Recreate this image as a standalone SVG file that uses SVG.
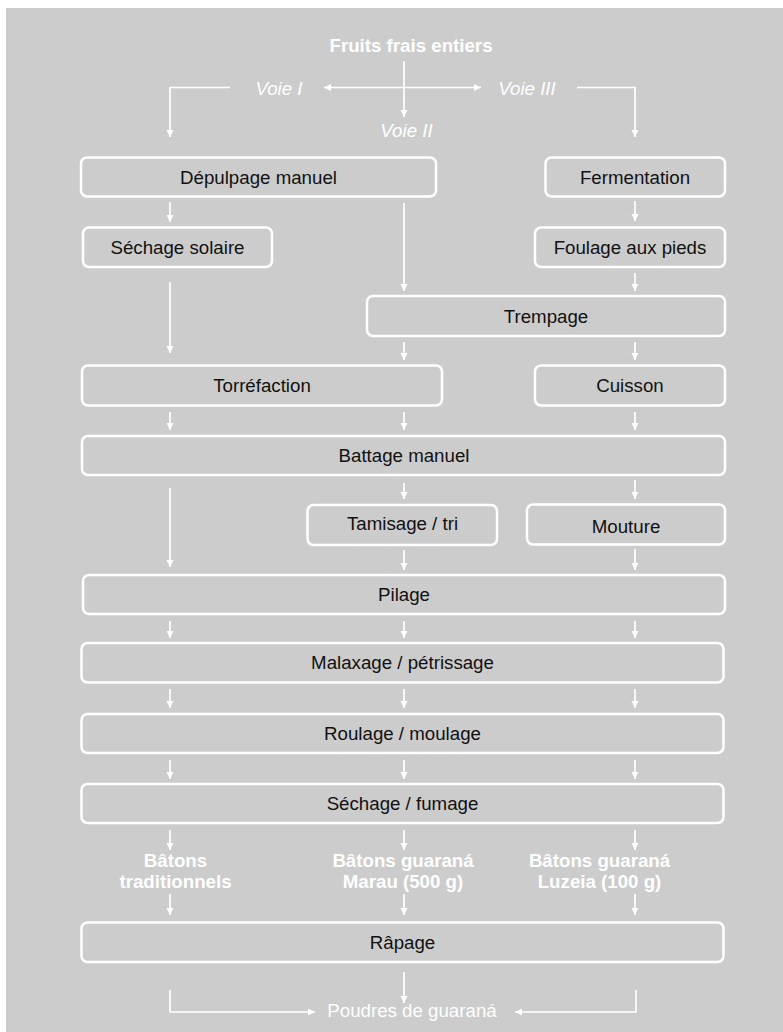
<svg xmlns="http://www.w3.org/2000/svg" width="783" height="1032" viewBox="0 0 783 1032">
<style>
.box{fill:none;stroke:#ffffff;stroke-width:2.5}
.t{font-family:"Liberation Sans",Arial,sans-serif;font-size:18.7px;fill:#111111;text-anchor:middle}
.w{font-family:"Liberation Sans",Arial,sans-serif;font-size:18.7px;fill:#ffffff;text-anchor:middle}
.b{font-weight:bold}
.i{font-style:italic}
.c{fill:none;stroke:#ffffff;stroke-width:1.7;marker-end:url(#ah)}
.l{fill:none;stroke:#ffffff;stroke-width:1.7}
</style>
<defs>
<marker id="ah" markerUnits="userSpaceOnUse" markerWidth="8" markerHeight="8" refX="7" refY="3.5" orient="auto">
<path d="M0,0 L7,3.5 L0,7 z" fill="#ffffff"/>
</marker>
</defs>
<rect x="6" y="8" width="777" height="1024" fill="#cccccc"/>

<g id="labels">
<text class="w b" x="411" y="52">Fruits frais entiers</text>
<text class="w i" x="279" y="95">Voie I</text>
<text class="w i" x="527" y="95">Voie III</text>
<text class="w i" x="406.5" y="137">Voie II</text>
<text class="w b" x="175.5" y="867">Bâtons</text>
<text class="w b" x="175.5" y="888">traditionnels</text>
<text class="w b" x="403" y="867">Bâtons guaraná</text>
<text class="w b" x="403" y="888">Marau (500 g)</text>
<text class="w b" x="599.5" y="867">Bâtons guaraná</text>
<text class="w b" x="599.5" y="888">Luzeia (100 g)</text>
<text class="w" x="412" y="1017">Poudres de guaraná</text>
</g>

<g id="n-depulpage"><rect class="box" x="81" y="157.5" width="355" height="39" rx="6"/><text class="t" x="258.5" y="183.5">Dépulpage manuel</text></g>
<g id="n-fermentation"><rect class="box" x="545.5" y="157.5" width="179.5" height="39" rx="6"/><text class="t" x="635" y="183.5">Fermentation</text></g>
<g id="n-sechage-solaire"><rect class="box" x="83" y="227.5" width="189" height="39.5" rx="6"/><text class="t" x="177.5" y="253.5">Séchage solaire</text></g>
<g id="n-foulage"><rect class="box" x="535" y="227.5" width="190" height="39.5" rx="6"/><text class="t" x="630" y="253.5">Foulage aux pieds</text></g>
<g id="n-trempage"><rect class="box" x="367" y="296" width="358" height="40" rx="6"/><text class="t" x="546" y="322.5">Trempage</text></g>
<g id="n-torrefaction"><rect class="box" x="82" y="365.5" width="360" height="40" rx="6"/><text class="t" x="262" y="392">Torréfaction</text></g>
<g id="n-cuisson"><rect class="box" x="535" y="365.5" width="190" height="40" rx="6"/><text class="t" x="630" y="392">Cuisson</text></g>
<g id="n-battage"><rect class="box" x="82" y="436" width="643" height="39" rx="6"/><text class="t" x="404" y="462">Battage manuel</text></g>
<g id="n-tamisage"><rect class="box" x="307.5" y="505" width="189.5" height="40" rx="6"/><text class="t" x="402.5" y="530">Tamisage / tri</text></g>
<g id="n-mouture"><rect class="box" x="527" y="504.5" width="198" height="40" rx="6"/><text class="t" x="626" y="533">Mouture</text></g>
<g id="n-pilage"><rect class="box" x="83" y="575" width="642" height="39" rx="6"/><text class="t" x="404" y="601">Pilage</text></g>
<g id="n-malaxage"><rect class="box" x="81.5" y="643" width="642" height="39.5" rx="6"/><text class="t" x="402.5" y="669">Malaxage / pétrissage</text></g>
<g id="n-roulage"><rect class="box" x="81.5" y="714" width="642" height="39" rx="6"/><text class="t" x="402.5" y="740">Roulage / moulage</text></g>
<g id="n-sechage-fumage"><rect class="box" x="81.5" y="784" width="642" height="39" rx="6"/><text class="t" x="402.5" y="810">Séchage / fumage</text></g>
<g id="n-rapage"><rect class="box" x="81.5" y="922.5" width="642" height="39.5" rx="6"/><text class="t" x="402.5" y="948.5">Râpage</text></g>

<g id="connectors">
<path class="c" d="M404,61 V117"/>
<path class="c" d="M404,87.5 H324"/>
<path class="c" d="M404,87.5 H481"/>
<path class="c" d="M230,87.5 H170 V137"/>
<path class="c" d="M577,87.5 H635 V137"/>

<path class="c" d="M170,202 V222"/>
<path class="c" d="M404,203 V291"/>
<path class="c" d="M635,201 V221"/>
<path class="c" d="M635,273 V291"/>
<path class="c" d="M170,282 V353"/>
<path class="c" d="M404,342 V360"/>
<path class="c" d="M635,342 V360"/>

<path class="c" d="M170,412 V430"/>
<path class="c" d="M404,412 V430"/>
<path class="c" d="M635,412 V430"/>

<path class="c" d="M170,488 V567"/>
<path class="c" d="M404,483 V499"/>
<path class="c" d="M635,480 V499"/>
<path class="c" d="M404,550 V570"/>
<path class="c" d="M635,549 V570"/>

<path class="c" d="M170,621 V638"/>
<path class="c" d="M404,621 V638"/>
<path class="c" d="M635,621 V638"/>

<path class="c" d="M170,689 V708"/>
<path class="c" d="M404,689 V708"/>
<path class="c" d="M635,689 V708"/>

<path class="c" d="M170,760 V779"/>
<path class="c" d="M404,760 V779"/>
<path class="c" d="M635,760 V779"/>

<path class="c" d="M170,830 V850"/>
<path class="c" d="M404,830 V850"/>
<path class="c" d="M635,830 V850"/>

<path class="c" d="M170,894 V915"/>
<path class="c" d="M404,894 V915"/>
<path class="c" d="M635,894 V915"/>

<path class="c" d="M404,972 V1003"/>
<path class="c" d="M170,990 V1012 H315"/>
<path class="c" d="M636,990 V1012 H515"/>
</g>
</svg>
